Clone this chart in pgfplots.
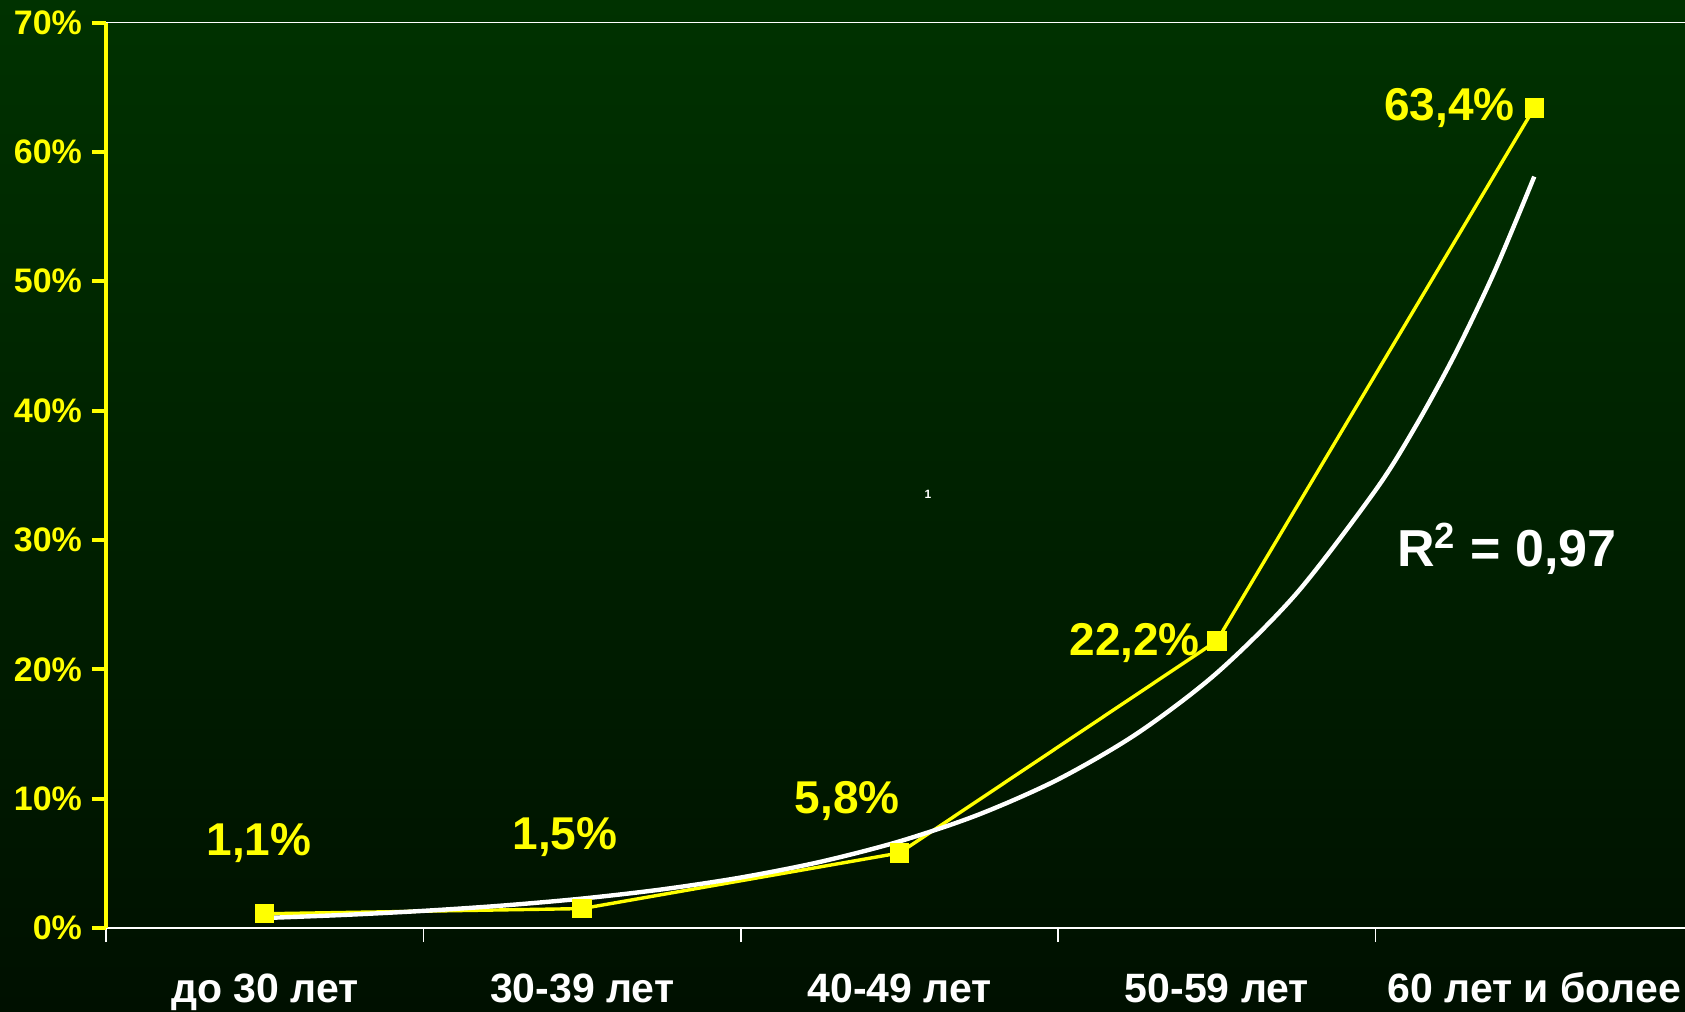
\documentclass[border=0pt]{standalone}
\usepackage{fontspec}
\setmainfont{Liberation Sans}
\usepackage{pgfplots}
\pgfplotsset{compat=1.18}
\definecolor{bgtop}{HTML}{003200}
\definecolor{bgbot}{HTML}{001000}
\definecolor{yel}{HTML}{FFFF00}
\begin{document}
\begin{tikzpicture}[x=1pt,y=1pt]
\shade[top color=bgtop, bottom color=bgbot] (0,0) rectangle (842.5,505.5);
\begin{axis}[
  at={(53pt,41.5pt)}, anchor=south west,
  scale only axis, width=789.5pt, height=452.7pt,
  xmin=-0.5, xmax=4.475, ymin=0, ymax=70,
  axis x line*=bottom, axis y line*=left,
  x axis line style={white, line width=0.8pt},
  y axis line style={yel, line width=2pt},
  tick align=outside,
  major tick length=7pt,
  xtick={-0.5,0.5,1.5,2.5,3.5},
  xticklabels={},
  x tick style={white, line width=0.8pt},
  extra x ticks={0,1,2,3,4},
  extra x tick labels={до 30 лет, 30-39 лет, 40-49 лет, 50-59 лет, 60 лет и более},
  extra x tick style={major tick length=0pt, xticklabel style={anchor=base, yshift=-37.3pt}},
  xticklabel style={text=white, font=\bfseries\fontsize{20.5}{20.5}\selectfont},
  ytick={0,10,20,30,40,50,60,70},
  yticklabel={\pgfmathprintnumber{\tick}\%},
  y tick style={yel, line width=2pt},
  yticklabel style={text=yel, font=\bfseries\fontsize{17}{17}\selectfont, xshift=-1.5pt},
  /pgf/number format/assume math mode=true,
  clip=false,
]
\draw[white, line width=0.6pt] (rel axis cs:0,1) -- (rel axis cs:1,1);
\addplot[yel, line width=1.7pt, mark=square*, mark size=4pt, mark options={solid, fill=yel, draw=yel}]
  coordinates {(0,1.1) (1,1.5) (2,5.8) (3,22.2) (4,63.4)};
\addplot[white, line width=2.2pt, smooth]
  coordinates {(0,0.772) (0.25,1.011) (0.5,1.325) (0.75,1.736) (1,2.274) (1.25,2.979) (1.5,3.903) (1.75,5.112) (2,6.697) (2.25,8.774) (2.5,11.49) (2.75,15.06) (3,19.72) (3.25,25.84) (3.5,33.85) (3.625,38.74) (3.75,44.35) (3.875,50.76) (4,58.09)};
\node[text=yel, font=\bfseries\fontsize{23}{23}\selectfont] at (axis cs:-0.018,6.53) {1,1\%};
\node[text=yel, font=\bfseries\fontsize{23}{23}\selectfont] at (axis cs:0.946,7.04) {1,5\%};
\node[text=yel, font=\bfseries\fontsize{23}{23}\selectfont] at (axis cs:1.835,9.85) {5,8\%};
\node[text=yel, font=\bfseries\fontsize{23}{23}\selectfont] at (axis cs:2.741,22.07) {22,2\%};
\node[text=yel, font=\bfseries\fontsize{23}{23}\selectfont] at (axis cs:3.733,63.36) {63,4\%};
\node[text=white, font=\bfseries\fontsize{26}{26}\selectfont] at (axis cs:3.914,29.3) {R\textsuperscript{2} = 0,97};
\node[text=white, font=\bfseries\fontsize{6}{6}\selectfont] at (axis cs:2.09,33.5) {1};
\end{axis}
\pgfresetboundingbox
\useasboundingbox (0,0) rectangle (842.5,505.5);
\end{tikzpicture}
\end{document}
